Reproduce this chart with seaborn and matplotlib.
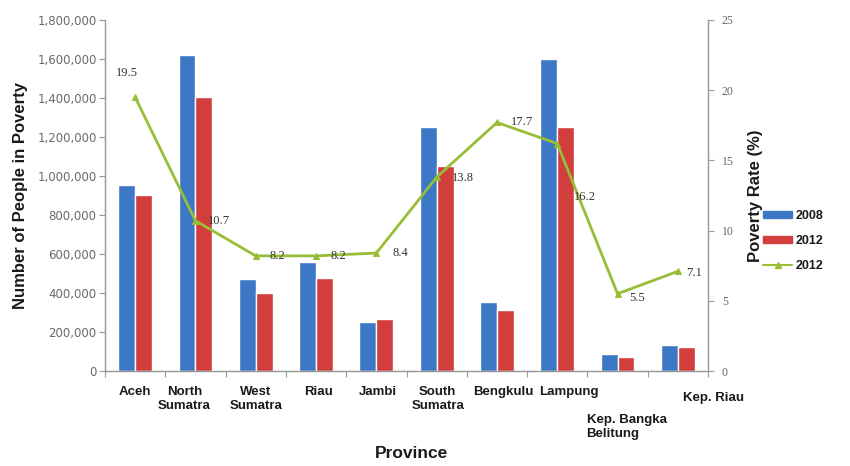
import numpy as np
import pandas as pd
import matplotlib
matplotlib.use("Agg")
import matplotlib.pyplot as plt
import matplotlib.transforms as mtransforms
from matplotlib.patches import Patch
from matplotlib.lines import Line2D
from matplotlib.ticker import MultipleLocator, FuncFormatter
import seaborn as sns

# Poor population by province, Sumatra region
provinces = ["Aceh", "North\nSumatra", "West\nSumatra", "Riau", "Jambi",
             "South\nSumatra", "Bengkulu", "Lampung", "Kep. Bangka\nBelitung",
             "Kep. Riau"]
people_2008 = [955000, 1620000, 472000, 561000, 253000,
               1253000, 352000, 1600000, 87000, 133000]
people_2012 = [902000, 1407000, 402000, 478000, 265000,
               1051000, 313000, 1250000, 70000, 125000]
rate_2012 = [19.5, 10.7, 8.2, 8.2, 8.4, 13.8, 17.7, 16.2, 5.5, 7.1]
years = ["2008", "2012"]

BLUE = "#3D78C6"
RED = "#D13E3B"
GREEN = "#98BE38"

sns.set_theme(style="white")
plt.rcParams["font.family"] = ["Liberation Sans", "DejaVu Sans"]

df = pd.DataFrame({
    "Province": provinces * 2,
    "Year": [years[0]] * len(provinces) + [years[1]] * len(provinces),
    "People": people_2008 + people_2012,
})

W, H = 850, 466
fig = plt.figure(figsize=(W / 100, H / 100), dpi=100)
fig.patch.set_facecolor("white")
ax = fig.add_axes([105 / W, 1 - 371 / H, 603 / W, 351 / H])

sns.barplot(data=df, x="Province", y="People", hue="Year", order=provinces,
            hue_order=years, palette=[BLUE, RED], width=0.56, saturation=1,
            legend=False, ax=ax)

ax.set_ylim(0, 1800000)
ax.set_xlim(-0.5, len(provinces) - 0.5)
ax.yaxis.set_major_locator(MultipleLocator(200000))
ax.yaxis.set_major_formatter(FuncFormatter(lambda v, p: f"{v:,.0f}"))
ax.tick_params(axis="y", which="major", direction="out", length=4, width=0.8,
               color="#999999", labelsize=8.5, labelcolor="#6a6a6a", pad=2)
for lab in ax.get_yticklabels():
    lab.set_fontfamily(["DejaVu Sans"])

# category boundaries carry the x tick marks
ax.set_xticks(np.arange(len(provinces) + 1) - 0.5, minor=True)
ax.tick_params(axis="x", which="minor", direction="out", length=4, width=0.8,
               color="#999999", bottom=True)
ax.tick_params(axis="x", which="major", length=0, pad=11, labelsize=9.5,
               labelcolor="#1a1a1a")
ax.set_xticks(np.arange(len(provinces)))
ax.set_xticklabels(provinces, fontweight="bold", linespacing=1.15)

# per-label nudges (pixels) for the staggered category names
label_dx = [0, -11, 0, 2, 2, 1, 6, 12, 9, 36]
label_dy = [0, 0, 0, 0, 0, 0, 0, 0, -28, -6]
label_align = ["center"] * 8 + ["left", "center"]
for lab, dx, dy, al in zip(ax.get_xticklabels(), label_dx, label_dy,
                           label_align):
    lab.set_multialignment(al)
    lab.set_transform(lab.get_transform() +
                      mtransforms.ScaledTranslation(dx / 100, dy / 100,
                                                    fig.dpi_scale_trans))

for side in ["left", "bottom", "right"]:
    ax.spines[side].set_color("#999999")
    ax.spines[side].set_linewidth(0.9)
ax.spines["top"].set_visible(False)

ax.set_xlabel("Province", fontsize=12.5, fontweight="bold", color="#1a1a1a")
ax.set_ylabel("Number of People in Poverty", fontsize=12, fontweight="bold",
              labelpad=7, color="#1a1a1a")
ax.xaxis.set_label_coords(0.509, -0.215)

# poverty rate on the secondary axis
ax2 = ax.twinx()
sns.lineplot(x=np.arange(len(provinces)), y=rate_2012, ax=ax2, color=GREEN,
             linewidth=2, marker="^", markersize=5, markeredgecolor=GREEN)
ax2.set_ylim(0, 25)
ax.set_xlim(-0.5, len(provinces) - 0.5)
ax2.yaxis.set_major_locator(MultipleLocator(5))
ax2.tick_params(axis="y", direction="out", length=4, width=0.8,
                color="#999999", labelsize=8.5, labelcolor="#6a6a6a", pad=6)
for lab in ax2.get_yticklabels():
    lab.set_fontfamily(["Liberation Serif"])
ax2.set_ylabel("Poverty Rate (%)", fontsize=12, fontweight="bold",
               labelpad=10, color="#1a1a1a")
for side in ["left", "bottom", "right"]:
    ax2.spines[side].set_color("#999999")
    ax2.spines[side].set_linewidth(0.9)
ax2.spines["top"].set_visible(False)
ax2.grid(False)
ax.grid(False)

# value labels on the rate line (offsets in pixels)
val_dx = [-8, 24, 22, 22, 24, 26, 25, 28, 20, 16]
val_dy = [24, 0, 0, 0, 0, -1, 0, -53, -4, -2]
for i, (v, dx, dy) in enumerate(zip(rate_2012, val_dx, val_dy)):
    ax2.annotate(f"{v}", xy=(i, v), xycoords=ax2.transData,
                 xytext=(dx, dy), textcoords="offset pixels",
                 ha="center", va="center", fontsize=9, color="#333333",
                 fontfamily=["Liberation Serif"])

handles = [Patch(facecolor=BLUE, edgecolor=BLUE),
           Patch(facecolor=RED, edgecolor=RED),
           Line2D([0], [0], color=GREEN, linewidth=1.5, marker="^",
                  markersize=4)]
fig.legend(handles, ["2008", "2012", "2012"], loc="center left",
           bbox_to_anchor=(752 / W, 1 - 241 / H), frameon=False,
           prop={"size": 9, "weight": "bold"}, handlelength=2.3,
           handleheight=0.55, handletextpad=0.3, labelspacing=1.05,
           labelcolor="#1a1a1a")

fig.savefig("out.png", dpi=100, facecolor="white")
